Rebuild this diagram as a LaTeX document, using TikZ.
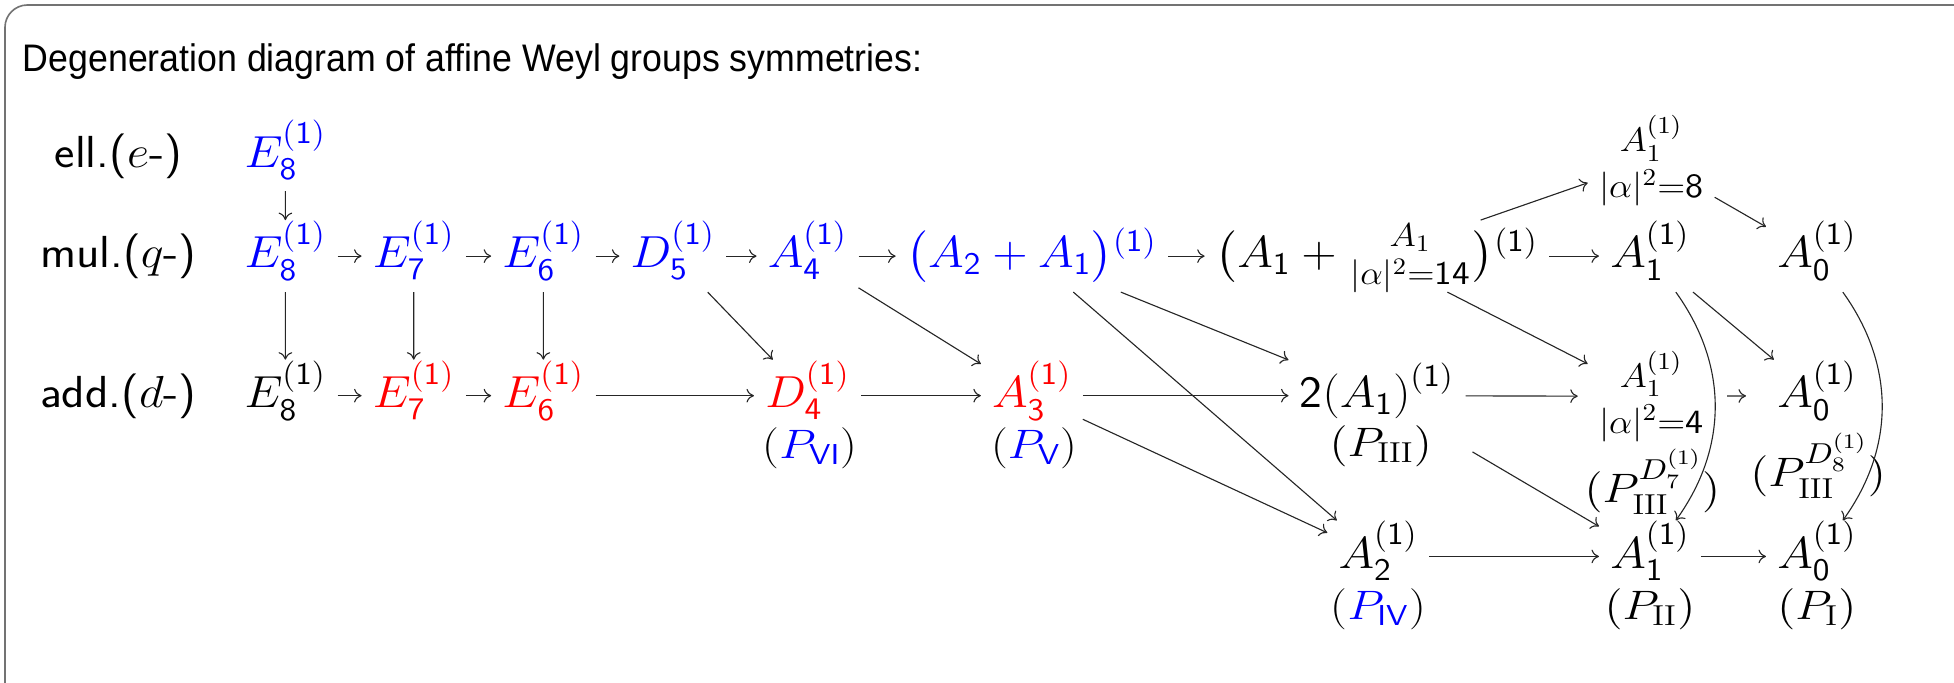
\RequirePackage{fix-cm}
\documentclass[tikz,border=0pt]{standalone}
\usepackage{amsmath}
\usepackage{fontspec}
\newfontfamily\titlefont{Liberation Sans}
\usetikzlibrary{arrows.meta}
\newcommand{\sso}{^{\mathsf{(1)}}}
\newcommand{\sn}[1]{_{\mathsf{#1}}}
\newcommand{\stk}[3]{\text{\fontsize{#1}{#1}\selectfont$\genfrac{}{}{0pt}{1}{#2}{#3}$}}
\begin{document}
\begin{tikzpicture}[x=0.5pt,y=-0.5pt,
  mn/.style={anchor=base, inner sep=4pt, text height=15pt, text depth=5.5pt, xscale=1.08, font=\fontsize{18}{22}\selectfont},
  stkn/.style={anchor=center, inner sep=4pt, align=center, xscale=1.08, font=\fontsize{19.5}{18.5}\selectfont},
  lab/.style={anchor=base, inner sep=2pt, xscale=1.08, font=\sffamily\fontsize{18}{22}\selectfont},
  pl/.style={anchor=base, inner sep=2pt, xscale=1.15, font=\fontsize{16.5}{20}\selectfont},
  ar/.style={-{To[length=3pt,width=5.5pt]}, line width=0.45pt, draw=black!85},
  frame/.style={draw=black!55, line width=0.65pt, rounded corners=9pt}]
\useasboundingbox (0,0) rectangle (1568,548);
\clip (0,0) rectangle (1568,548);
\draw[frame] (4,4) rectangle (1590,575);
\node[anchor=base west, inner sep=0pt, font=\titlefont\fontsize{15.4}{18}\selectfont] (title) at (18,57) {\scalebox{0.93}[1]{Degeneration diagram of affine Weyl groups symmetries:}};
% row labels
\node[lab] (lell) at (95,134) {ell.($e$-)};
\node[lab] (lmul) at (95,215) {mul.($q$-)};
\node[lab] (ladd) at (95,327) {add.($d$-)};
% elliptic
\node[mn, text=blue] (e8e) at (229,134) {$E\sn8\sso$};
% multiplicative
\node[mn, text=blue] (e8m) at (229,215) {$E\sn8\sso$};
\node[mn, text=blue] (e7m) at (332,215) {$E\sn7\sso$};
\node[mn, text=blue] (e6m) at (436,215) {$E\sn6\sso$};
\node[mn, text=blue] (d5m) at (540,215) {$D\sn5\sso$};
\node[mn, text=blue] (a4m) at (648,215) {$A\sn4\sso$};
\node[mn, text=blue] (a21m) at (828,215) {$\bigl(A\sn2+A\sn1\bigr){}\sso$};
\node[mn] (a11m) at (1105,215) {$\bigl(A\sn1+\stk{19}{A_1}{|\alpha|^2=\mathsf{14}}\bigr){}\sso$};
\node[mn] (a1m) at (1324,215) {$A\sn1\sso$};
\node[mn] (a0m) at (1458,215) {$A\sn0\sso$};
\node[stkn] (top) at (1325,129) {$\scriptstyle A_1^{(1)}$\\$\scriptstyle |\alpha|^2=\mathsf{8}$};
% additive
\node[mn] (e8a) at (229,327) {$E\sn8\sso$};
\node[mn, text=red] (e7a) at (332,327) {$E\sn7\sso$};
\node[mn, text=red] (e6a) at (436,327) {$E\sn6\sso$};
\node[mn, text=red] (d4a) at (648,327) {$D\sn4\sso$};
\node[mn, text=red] (a3a) at (828,327) {$A\sn3\sso$};
\node[mn] (twoa) at (1105,327) {$\mathsf{2(}A\sn1\mathsf{)}\sso$};
\node[stkn] (a1s) at (1325,318) {$\scriptstyle A_1^{(1)}$\\$\scriptstyle |\alpha|^2=\mathsf{4}$};
\node[mn] (a0a) at (1458,327) {$A\sn0\sso$};
\node[pl] (pvi) at (650,368) {(\textcolor{blue}{$P_{\mathsf{VI}}$})};
\node[pl] (pv) at (830,368) {(\textcolor{blue}{$P_{\mathsf{V}}$})};
\node[pl] (piii) at (1108,366) {$(P_{\mathrm{III}})$};
\node[pl] (pd7) at (1326,403) {$(P_{\mathrm{III}}^{D_7^{(1)}})$};
\node[pl] (pd8) at (1459,390) {$(P_{\mathrm{III}}^{D_8^{(1)}})$};
% bottom
\node[mn] (a2b) at (1106,456) {$A\sn2\sso$};
\node[mn] (a1b) at (1324,456) {$A\sn1\sso$};
\node[mn] (a0b) at (1458,456) {$A\sn0\sso$};
\node[pl] (piv) at (1106,497) {(\textcolor{blue}{$P_{\mathsf{IV}}$})};
\node[pl] (pii) at (1324,497) {$(P_{\mathrm{II}})$};
\node[pl] (pi) at (1458,497) {$(P_{\mathrm{I}})$};
% arrows
\draw[ar] (e8e) -- (e8m);
\draw[ar] (e8m) -- (e7m);
\draw[ar] (e7m) -- (e6m);
\draw[ar] (e6m) -- (d5m);
\draw[ar] (d5m) -- (a4m);
\draw[ar] (a4m) -- (a21m);
\draw[ar] (a21m) -- (a11m);
\draw[ar] (a11m) -- (a1m);
\draw[ar] (e8m) -- (e8a);
\draw[ar] (e7m) -- (e7a);
\draw[ar] (e6m) -- (e6a);
\draw[ar] (e8a) -- (e7a);
\draw[ar] (e7a) -- (e6a);
\draw[ar] (e6a) -- (d4a);
\draw[ar] (d4a) -- (a3a);
\draw[ar] (a3a) -- (twoa);
\draw[ar, shorten >=4pt] (twoa) -- (a1s);
\draw[ar, shorten <=5pt, shorten >=8pt] (a1s) -- (a0a);
\draw[ar] (d5m) -- (d4a);
\draw[ar] (a4m) -- (a3a);
\draw[ar] (a21m) -- (twoa);
\draw[ar] (a21m) -- (a2b);
\draw[ar] (a3a) -- (a2b);
\draw[ar] (a11m) -- (top);
\draw[ar] (top) -- (a0m);
\draw[ar] (a11m) -- (a1s);
\draw[ar] (a1m) -- (a0a);
\draw[ar, shorten <=16pt] (twoa) -- (a1b);
\draw[ar] (a2b) -- (a1b);
\draw[ar] (a1b) -- (a0b);
\draw[ar] (a1m) to[out=-55,in=55] (a1b);
\draw[ar] (a0m) to[out=-55,in=55] (a0b);
\end{tikzpicture}
\end{document}
